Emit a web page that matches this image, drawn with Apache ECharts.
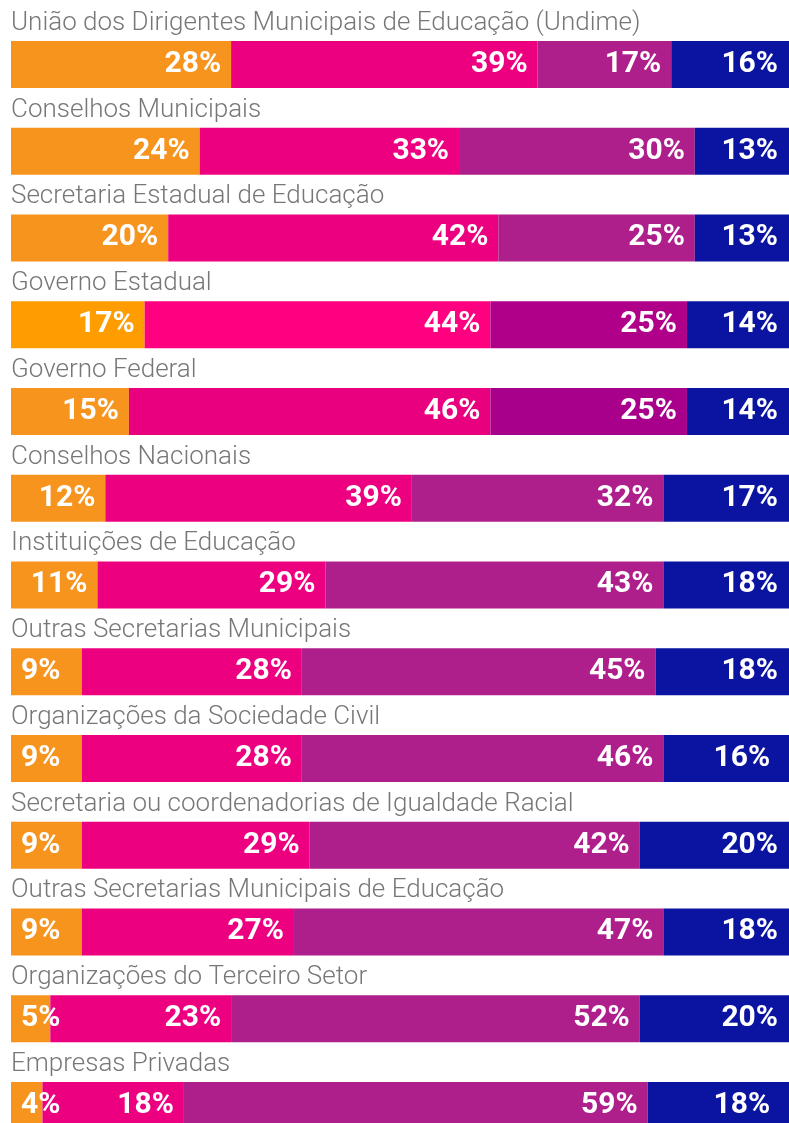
<!DOCTYPE html>
<html>
<head>
<meta charset="utf-8">
<script src="https://cdn.jsdelivr.net/npm/echarts@6/dist/echarts.min.js"></script>
<style>
  html, body { margin: 0; padding: 0; background: #fff; overflow: hidden; }
  #chart { width: 789px; height: 1160px; }
</style>
</head>
<body>
<div id="chart"></div>
<script>
const categories = [
  "União dos Dirigentes Municipais de Educação (Undime)",
  "Conselhos Municipais",
  "Secretaria Estadual de Educação",
  "Governo Estadual",
  "Governo Federal",
  "Conselhos Nacionais",
  "Instituições de Educação",
  "Outras Secretarias Municipais",
  "Organizações da Sociedade Civil",
  "Secretaria ou coordenadorias de Igualdade Racial",
  "Outras Secretarias Municipais de Educação",
  "Organizações do Terceiro Setor",
  "Empresas Privadas"
];
const part1 = [28, 24, 20, 17, 15, 12, 11, 9, 9, 9, 9, 5, 4];
const part2 = [39, 33, 42, 44, 46, 39, 29, 28, 28, 29, 27, 23, 18];
const part3 = [17, 30, 25, 25, 25, 32, 43, 45, 46, 42, 47, 52, 59];
const part4 = [16, 13, 13, 14, 14, 17, 18, 18, 16, 20, 18, 20, 18];

const colors = ["#F7941E", "#EC0080", "#AE1F8C", "#0A14A0"];
// the "Governo" rows use slightly different tones
const rowColors = {
  3: ["#FF9D00", "#FF0080", "#B0008A", null],
  4: [null, "#E8007E", "#A8008A", null]
};

const chart = echarts.init(document.getElementById("chart"), null, { renderer: "canvas" });

function makeSeries(values, idx) {
  return {
    type: "bar",
    stack: "total",
    barWidth: 47,
    itemStyle: { color: colors[idx] },
    label: {
      show: true,
      position: "insideRight",
      distance: idx === 3 ? 19 : 10,
      formatter: "{c}%",
      color: "#fff",
      fontFamily: "Roboto",
      fontWeight: "bold",
      fontSize: 30
    },
    data: values.map((v, i) => {
      const d = { value: v };
      const rc = rowColors[i];
      if (rc && rc[idx]) d.itemStyle = { color: rc[idx] };
      if (v < 10) d.label = { position: "insideLeft", distance: 10 };
      return d;
    })
  };
}

chart.setOption({
  animation: false,
  grid: {
    left: 11, right: -8, top: 21, height: 1127.75,
    containLabel: false, outerBoundsMode: "none"
  },
  xAxis: { type: "value", min: 0, max: 100, show: false },
  yAxis: {
    type: "category",
    inverse: true,
    data: categories,
    axisLine: { show: false },
    axisTick: { show: false },
    splitLine: { show: false },
    axisLabel: {
      inside: true,
      interval: 0,
      margin: 0,
      color: "#777",
      fontFamily: "Roboto",
      fontWeight: 300,
      fontSize: 26,
      verticalAlign: "bottom",
      lineHeight: 82
    },
    z: 10
  },
  series: [part1, part2, part3, part4].map(makeSeries)
});
</script>
</body>
</html>
